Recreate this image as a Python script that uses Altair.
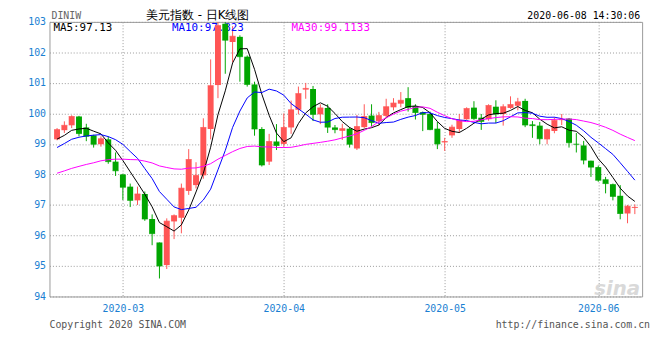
import altair as alt
import pandas as pd

# trading days shown (2020-02-18 .. 2020-06-08)
dates = [d.strftime("%Y-%m-%d") for d in pd.bdate_range("2020-02-18", "2020-06-08")]

opens = [99.15, 99.45, 99.61, 99.90, 99.54, 99.28, 98.99, 99.15, 98.42,
         98.00, 97.60, 97.15, 97.36, 96.54, 95.77, 95.03, 96.46, 96.58, 97.46, 97.65, 97.97,
         99.49, 100.93, 102.94, 102.34, 102.51, 101.86, 100.95, 99.49, 98.42, 99.08,
         99.00, 99.54, 100.12, 100.78, 100.80, 99.97, 100.18, 99.54, 99.43, 99.50, 98.85,
         99.55, 99.93, 99.74, 99.92, 100.20, 100.32, 100.50, 100.24, 100.04, 99.98, 99.50,
         99.05, 99.28, 99.49, 99.81, 100.19, 99.86, 99.81, 100.22, 99.98, 100.18, 100.25,
         100.41, 99.64, 99.60, 99.15, 99.42, 99.78, 99.83, 99.00, 98.95, 98.45,
         98.24, 97.84, 97.68, 97.30, 96.72, 96.90]
highs = [99.52, 99.74, 99.94, 99.92, 99.66, 99.30, 99.25, 99.25, 98.72,
         98.02, 97.70, 97.60, 97.44, 96.69, 95.77, 96.56, 96.69, 97.70, 98.83, 98.40, 99.84,
         101.77, 103.00, 102.99, 102.86, 102.56, 101.90, 101.04, 99.55, 99.33, 99.65,
         100.00, 100.42, 100.88, 101.00, 100.90, 100.30, 100.30, 99.62, 99.66, 99.55, 99.95,
         100.30, 100.30, 100.05, 100.48, 100.50, 100.70, 100.86, 100.30, 100.06, 100.06, 99.72,
         99.20, 99.63, 99.98, 100.20, 100.40, 99.98, 100.30, 100.43, 100.30, 100.56, 100.51,
         100.48, 99.75, 99.72, 99.50, 99.87, 99.98, 99.85, 99.36, 99.10, 98.45,
         98.29, 97.92, 97.70, 97.65, 97.00, 97.02]
lows = [99.12, 99.36, 99.52, 99.25, 99.09, 98.88, 98.91, 98.35, 97.95,
        97.16, 96.93, 97.00, 96.48, 95.68, 94.59, 94.90, 95.88, 96.07, 97.33, 97.54, 97.86,
        99.15, 100.50, 101.30, 101.68, 101.04, 100.88, 99.27, 98.26, 98.31, 98.80,
        98.90, 99.33, 99.97, 100.48, 99.75, 99.65, 99.36, 99.35, 99.13, 98.88, 98.80,
        99.52, 99.57, 99.60, 99.84, 100.10, 100.20, 100.06, 99.80, 99.42, 99.45, 98.83,
        98.77, 99.20, 99.36, 99.79, 99.79, 99.46, 99.76, 99.68, 99.60, 100.15, 100.10,
        99.55, 99.20, 98.99, 98.99, 99.35, 99.62, 98.88, 98.72, 98.33, 97.92,
        97.76, 97.38, 97.15, 96.53, 96.40, 96.70]
closes = [99.47, 99.61, 99.90, 99.34, 99.25, 98.99, 99.17, 98.42, 98.12,
          97.58, 97.15, 97.36, 96.54, 96.06, 95.00, 96.47, 96.65, 97.55, 98.49, 97.97, 99.54,
          100.91, 102.88, 102.40, 102.53, 101.86, 100.95, 99.49, 98.31, 99.08, 98.95,
          99.54, 100.12, 100.65, 100.82, 99.97, 100.18, 99.55, 99.47, 99.50, 98.99, 99.57,
          99.90, 99.70, 99.93, 100.22, 100.34, 100.43, 100.20, 100.03, 99.97, 99.47, 99.00,
          99.08, 99.55, 99.77, 100.16, 99.83, 99.74, 100.26, 99.98, 100.22, 100.29, 100.38,
          99.62, 99.60, 99.17, 99.47, 99.77, 99.80, 99.04, 98.99, 98.47, 98.24,
          97.81, 97.70, 97.28, 96.72, 96.96, 96.92]

# closes of the 29 sessions before the first visible candle (estimated from
# where the MA5 / MA10 / MA30 lines start at the left edge)
prior_closes = [97.30, 97.45, 97.36, 97.35, 97.37, 97.22, 97.32, 97.60, 97.60, 97.53,
                97.55, 97.86, 97.87, 97.94, 98.00, 98.03, 97.87, 97.39, 97.80, 97.96,
                98.30, 98.50, 98.68, 98.83, 98.72, 99.00, 99.07, 99.12, 99.13]

y_ticks = [94, 95, 96, 97, 98, 99, 100, 101, 102, 103]
ma_labels = ["MA5:97.13", "MA10:97.823", "MA30:99.1133"]
ma_colors = ["#000000", "#0000ff", "#ff00ff"]
title_text = "美元指数 - 日K线图"
symbol_text = "DINIW"
stamp_text = "2020-06-08 14:30:06"
copyright_text = "Copyright 2020 SINA.COM"
url_text = "http://finance.sina.com.cn"

RED = "#ff5555"
GREEN = "#00a600"
LBL = "#1a7fd2"
MONO = "DejaVu Sans Mono"

# month ticks: first trading day of each month
month_idx, month_lbl = [], []
for i, d in enumerate(dates):
    m = d[:7]
    if i > 0 and m != dates[i - 1][:7]:
        month_idx.append(i)
        month_lbl.append(m)
label_expr = " : ".join(f"datum.value == {i} ? '{l}'" for i, l in zip(month_idx, month_lbl)) + " : ''"

npre = len(prior_closes)
n = len(closes)
df = pd.DataFrame({
    "idx": list(range(-npre, 0)) + list(range(n)),
    "open": [None] * npre + opens,
    "high": [None] * npre + highs,
    "low": [None] * npre + lows,
    "close": prior_closes + closes,
})

x_axis = alt.Axis(values=month_idx, labelExpr=label_expr, grid=True, gridDash=[1, 2],
                  gridColor="#999999", domain=False, ticks=False, labelColor=LBL,
                  labelFont=MONO, labelFontSize=10, labelPadding=7, labelFlush=False,
                  labelBaseline="top", title=None)
y_axis = alt.Axis(values=y_ticks, grid=True, gridDash=[1, 2], gridColor="#999999",
                  domain=False, ticks=False, labelColor=LBL, labelFont=MONO,
                  labelFontSize=10, labelPadding=4, labelOverlap=False, labelFlush=False,
                  title=None)
x_scale = alt.Scale(domain=[-0.36, 79.32], nice=False, zero=False)
y_scale = alt.Scale(domain=[94, 103], nice=False, zero=False)


def X():
    return alt.X("idx:Q", scale=x_scale, axis=x_axis, title=None)


def Y(f):
    return alt.Y(f, scale=y_scale, axis=y_axis, title=None)


candles = (alt.Chart(df)
           .transform_filter("datum.idx >= 0")
           .transform_calculate(dir="datum.close >= datum.open ? 'up' : 'down'"))
color = alt.Color("dir:N", scale=alt.Scale(domain=["up", "down"], range=[RED, GREEN]), legend=None)

wicks = candles.mark_rule(strokeWidth=1).encode(x=X(), y=Y("low:Q"), y2="high:Q", color=color)
bodies = candles.mark_bar(size=6).encode(x=X(), y=Y("open:Q"), y2="close:Q", color=color)
flat = candles.mark_tick(orient="horizontal", size=6, thickness=1).encode(x=X(), y=Y("close:Q"), color=color)

ma = (alt.Chart(df)
      .transform_window(ma5="mean(close)", frame=[-4, 0], sort=[alt.SortField("idx")])
      .transform_window(ma10="mean(close)", frame=[-9, 0], sort=[alt.SortField("idx")])
      .transform_window(ma30="mean(close)", frame=[-29, 0], sort=[alt.SortField("idx")])
      .transform_filter("datum.idx >= 0"))
ma_lines = [ma.mark_line(color=c, strokeWidth=1).encode(x=X(), y=Y(f"{f}:Q"))
            for f, c in zip(["ma5", "ma10", "ma30"], ma_colors)]

one = alt.Data(values=[{}])


def note(text, x, y, color, size, font=MONO, align="left", **kw):
    return alt.Chart(one).mark_text(text=text, align=align, baseline="alphabetic",
                                    color=color, fontSize=size, font=font, **kw
                                    ).encode(x=alt.value(x), y=alt.value(y))


notes = [
    note(symbol_text, 2, -3, "#666666", 10),
    note(title_text, 150, -3, "#000000", 12, font="DejaVu Sans", align="center"),
    note(stamp_text, 598, -3, "#000000", 10, align="right"),
    note(ma_labels[0], 4, 9, ma_colors[0], 11),
    note(ma_labels[1], 124, 9, ma_colors[1], 11),
    note(ma_labels[2], 245, 9, ma_colors[2], 11),
    note(copyright_text, 0, 310, "#555555", 10),
    note(url_text, 608, 310, "#555555", 10, align="right"),
    note("sina", 598, 276, "#d9d9d9", 20, font="DejaVu Sans", align="right",
         fontStyle="italic", fontWeight="bold"),
]

chart = (alt.layer(wicks, *notes[3:6], bodies, flat, *ma_lines, *notes[:3], *notes[6:])
         .properties(width=600, height=278,
                     padding={"left": 42, "top": 12, "right": 10, "bottom": 42},
                     autosize=alt.AutoSizeParams(type="none"))
         .configure_view(stroke="#999999", strokeWidth=1))

chart.save("out.html", embed_options={"renderer": "svg", "actions": False})
